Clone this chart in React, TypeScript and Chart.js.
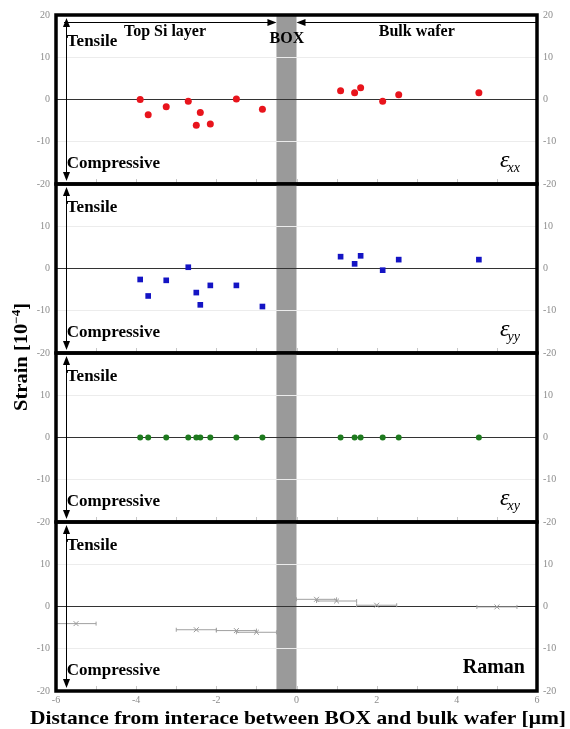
import React, { useEffect, useRef } from "react";
import { Chart, registerables } from "chart.js";
Chart.register(...registerables);

const W = 570;
const H = 729;
const PANEL_TOPS = [15, 184, 353, 522];
const PANEL_H = 169;
const SERIF = '"Liberation Serif", "Times New Roman", serif';

// ---- data ----
const xTop = [-3.9, -3.7, -3.25, -2.7, -2.5, -2.4, -2.15, -1.5, -0.85];
const xBulk = [1.1, 1.45, 1.6, 2.15, 2.55, 4.55];
const exxTop = [0, -3.6, -1.7, -0.4, -6.1, -3.1, -5.8, 0.1, -2.3];
const exxBulk = [2.1, 1.6, 2.8, -0.4, 1.1, 1.6];
const eyyTop = [-2.6, -6.5, -2.8, 0.3, -5.7, -8.6, -4.0, -4.0, -9.0];
const eyyBulk = [2.8, 1.1, 3.0, -0.4, 2.1, 2.1];
const exyTop = [0, 0, 0, 0, 0, 0, 0, 0, 0];
const exyBulk = [0, 0, 0, 0, 0, 0];
const ramanX = [-5.5, -2.5, -1.5, -1.0, 0.5, 1.0, 2.0, 5.0];
const ramanY = [-4.05, -5.5, -5.7, -6.1, 1.7, 1.3, 0.3, -0.1];
const ramanXErr = [0.5, 0.5, 0.5, 0.5, 0.5, 0.5, 0.5, 0.5];
const yTickValues = [-20, -10, 0, 10, 20];
const xTickValues = [-6, -4, -2, 0, 2, 4, 6];
const BOX_RANGE = [-0.5, 0];
const panelSymbols = ["xx", "yy", "xy", ""];

const pts = (xs: number[], ys: number[]) => xs.map((x, i) => ({ x, y: ys[i] }));

function drawArrowHead(ctx: CanvasRenderingContext2D, x: number, y: number, dx: number, dy: number) {
  const len = 9, hw = 3.5;
  const px = -dy, py = dx;
  ctx.beginPath();
  ctx.moveTo(x, y);
  ctx.lineTo(x - dx * len + px * hw, y - dy * len + py * hw);
  ctx.lineTo(x - dx * len - px * hw, y - dy * len - py * hw);
  ctx.closePath();
  ctx.fill();
}

function decor(idx: number) {
  return {
    id: "decor" + idx,
    beforeDraw(chart: any) {
      const { ctx, chartArea: a, scales } = chart;
      const x = scales.x;
      ctx.save();
      ctx.fillStyle = "#9a9a9a";
      const x0 = x.getPixelForValue(BOX_RANGE[0]);
      const x1 = x.getPixelForValue(BOX_RANGE[1]);
      ctx.fillRect(x0, a.top, x1 - x0, a.bottom - a.top);
      ctx.restore();
    },
    beforeDatasetsDraw(chart: any) {
      const { ctx, chartArea: a, scales } = chart;
      const x = scales.x, y = scales.y;
      ctx.save();
      // minor ticks
      ctx.strokeStyle = "#c8c8c8";
      ctx.lineWidth = 1;
      for (let v = -5; v <= 5; v++) {
        const px = Math.round(x.getPixelForValue(v)) + 0.5;
        ctx.beginPath();
        ctx.moveTo(px, a.bottom);
        ctx.lineTo(px, a.bottom - 5);
        ctx.stroke();
      }
      if (idx === 3) {
        ctx.strokeStyle = "#a0a0a0";
        ramanX.forEach((xv, i) => {
          const yp = y.getPixelForValue(ramanY[i]);
          const l = x.getPixelForValue(xv - ramanXErr[i]);
          const r = x.getPixelForValue(xv + ramanXErr[i]);
          ctx.beginPath();
          ctx.moveTo(l, yp);
          ctx.lineTo(r, yp);
          ctx.moveTo(l, yp - 2);
          ctx.lineTo(l, yp + 2);
          ctx.moveTo(r, yp - 2);
          ctx.lineTo(r, yp + 2);
          ctx.stroke();
        });
      }
      ctx.restore();
    },
    afterDraw(chart: any) {
      const { ctx, chartArea: a, scales } = chart;
      const x = scales.x, y = scales.y;
      ctx.save();
      // border
      ctx.strokeStyle = "#000";
      ctx.lineWidth = 3.5;
      ctx.strokeRect(a.left, a.top, a.right - a.left, a.bottom - a.top);
      // vertical double arrow
      ctx.lineWidth = 1;
      ctx.fillStyle = "#000";
      const ax = Math.round(x.getPixelForValue(-5.75)) + 0.5;
      ctx.beginPath();
      ctx.moveTo(ax, a.top + 5);
      ctx.lineTo(ax, a.bottom - 5);
      ctx.stroke();
      drawArrowHead(ctx, ax, a.top + 3, 0, -1);
      drawArrowHead(ctx, ax, a.bottom - 3, 0, 1);
      // Tensile / Compressive
      ctx.font = `bold 17px ${SERIF}`;
      ctx.textAlign = "left";
      ctx.textBaseline = "middle";
      const tx = x.getPixelForValue(-5.73);
      ctx.fillText("Tensile", tx, y.getPixelForValue(idx === 0 ? 13.6 : 14.5));
      ctx.fillText("Compressive", tx, y.getPixelForValue(-15.2));
      if (idx === 0) {
        const hy = Math.round(y.getPixelForValue(18.3)) + 0.5;
        const lx0 = x.getPixelForValue(-5.8), lx1 = x.getPixelForValue(-0.5);
        const rx0 = x.getPixelForValue(0), rx1 = a.right;
        ctx.beginPath();
        ctx.moveTo(lx0, hy);
        ctx.lineTo(lx1 - 4, hy);
        ctx.moveTo(rx0 + 4, hy);
        ctx.lineTo(rx1, hy);
        ctx.stroke();
        drawArrowHead(ctx, lx1, hy, 1, 0);
        drawArrowHead(ctx, rx0, hy, -1, 0);
        ctx.font = `bold 16px ${SERIF}`;
        ctx.textAlign = "center";
        ctx.fillText("Top Si layer", x.getPixelForValue(-3.28), y.getPixelForValue(15.9));
        ctx.fillText("BOX", x.getPixelForValue(-0.24), y.getPixelForValue(14.3));
        ctx.fillText("Bulk wafer", x.getPixelForValue(3.0), y.getPixelForValue(15.9));
      }
      // symbol
      if (panelSymbols[idx]) {
        ctx.textAlign = "left";
        ctx.textBaseline = "alphabetic";
        ctx.font = `italic 24px ${SERIF}`;
        const ex = x.getPixelForValue(5.08);
        const ey = y.getPixelForValue(-15.9);
        ctx.fillText("\u03b5", ex, ey);
        const w = ctx.measureText("\u03b5").width;
        ctx.font = `italic 14px ${SERIF}`;
        ctx.fillText(panelSymbols[idx], ex + w - 2, ey + 5);
      } else {
        ctx.textAlign = "right";
        ctx.textBaseline = "middle";
        ctx.font = `bold 20px ${SERIF}`;
        ctx.fillText("Raman", x.getPixelForValue(5.7), y.getPixelForValue(-14.5));
      }
      if (idx === 3) {
        // x title, stretched to the reference width
        ctx.save();
        ctx.textAlign = "center";
        ctx.textBaseline = "middle";
        ctx.font = `bold 19px ${SERIF}`;
        const xt = "Distance from interace between BOX and bulk wafer [\u03bcm]";
        const xw = ctx.measureText(xt).width;
        ctx.translate(298, 719);
        ctx.scale(536 / xw, 1);
        ctx.fillText(xt, 0, 0);
        ctx.restore();
        // y title (rotated)
        ctx.save();
        ctx.translate(21, 357);
        ctx.rotate(-Math.PI / 2);
        ctx.font = `bold 19px ${SERIF}`;
        const p1 = "Strain [10";
        const sup = "\u22124";
        const p3 = "]";
        const w1 = ctx.measureText(p1).width;
        ctx.font = `bold 12px ${SERIF}`;
        const w2 = ctx.measureText(sup).width;
        ctx.font = `bold 19px ${SERIF}`;
        const w3 = ctx.measureText(p3).width;
        const total = w1 + w2 + w3;
        ctx.scale(108 / total, 1);
        let cx = -total / 2;
        ctx.textAlign = "left";
        ctx.textBaseline = "alphabetic";
        ctx.fillText(p1, cx, 6);
        cx += w1;
        ctx.font = `bold 12px ${SERIF}`;
        ctx.fillText(sup, cx, -1);
        cx += w2;
        ctx.font = `bold 19px ${SERIF}`;
        ctx.fillText(p3, cx, 6);
        ctx.restore();
      }
      ctx.restore();
    },
  };
}

function buildConfig(idx: number): any {
  let datasets: any[] = [];
  if (idx === 0) {
    datasets = [
      { data: pts(xTop, exxTop), pointStyle: "circle", pointRadius: 3.5, backgroundColor: "#e8141c", borderColor: "#e8141c", borderWidth: 0 },
      { data: pts(xBulk, exxBulk), pointStyle: "circle", pointRadius: 3.5, backgroundColor: "#e8141c", borderColor: "#e8141c", borderWidth: 0 },
    ];
  } else if (idx === 1) {
    datasets = [
      { data: pts(xTop, eyyTop), pointStyle: "rect", pointRadius: 4, backgroundColor: "#1414c4", borderColor: "#1414c4", borderWidth: 0 },
      { data: pts(xBulk, eyyBulk), pointStyle: "rect", pointRadius: 4, backgroundColor: "#1414c4", borderColor: "#1414c4", borderWidth: 0 },
    ];
  } else if (idx === 2) {
    datasets = [
      { data: pts(xTop, exyTop), pointStyle: "circle", pointRadius: 3, backgroundColor: "#1e7a1e", borderColor: "#1e7a1e", borderWidth: 0 },
      { data: pts(xBulk, exyBulk), pointStyle: "circle", pointRadius: 3, backgroundColor: "#1e7a1e", borderColor: "#1e7a1e", borderWidth: 0 },
    ];
  } else {
    datasets = [
      { data: pts(ramanX, ramanY), pointStyle: "crossRot", pointRadius: 3.5, backgroundColor: "#999", borderColor: "#999", borderWidth: 1 },
    ];
  }
  const top = PANEL_TOPS[idx];
  const bottomPad = idx === 3 ? 0 : H - (top + PANEL_H);
  const tickFont = { family: SERIF, size: 10 };
  const yTickCb = (v: any) => (idx > 0 && v === 20 ? "" : String(v));
  return {
    type: "scatter",
    data: { datasets },
    options: {
      animation: false,
      responsive: false,
      events: [],
      layout: { padding: { top, bottom: bottomPad, left: 0, right: 0 } },
      plugins: { legend: { display: false }, tooltip: { enabled: false } },
      scales: {
        x: {
          type: "linear",
          min: -6,
          max: 6,
          display: idx === 3,
          afterBuildTicks: (s: any) => { s.ticks = xTickValues.map((v) => ({ value: v })); },
          afterFit: (s: any) => { s.height = idx === 3 ? H - (PANEL_TOPS[3] + PANEL_H) : 0; },
          grid: { display: false, drawTicks: false },
          border: { display: false },
          ticks: { font: tickFont, color: "#8c8c8c", padding: 3, maxRotation: 0 },
        },
        y: {
          type: "linear",
          position: "left",
          min: -20,
          max: 20,
          afterBuildTicks: (s: any) => { s.ticks = yTickValues.map((v) => ({ value: v })); },
          afterFit: (s: any) => { s.width = 56; },
          grid: {
            drawTicks: false,
            color: (c: any) => (c.tick && c.tick.value === 0 ? "#333" : c.tick && Math.abs(c.tick.value) === 10 ? "#ececec" : "rgba(0,0,0,0)"),
            lineWidth: 1,
          },
          border: { display: false },
          ticks: { font: tickFont, color: "#8c8c8c", padding: 6, callback: yTickCb },
        },
        yR: {
          type: "linear",
          position: "right",
          min: -20,
          max: 20,
          afterBuildTicks: (s: any) => { s.ticks = yTickValues.map((v) => ({ value: v })); },
          afterFit: (s: any) => { s.width = W - 537; },
          grid: { display: false, drawTicks: false },
          border: { display: false },
          ticks: { font: tickFont, color: "#8c8c8c", padding: 6, callback: yTickCb },
        },
      },
    },
    plugins: [decor(idx)],
  };
}

function Panel({ idx }: { idx: number }) {
  const ref = useRef<HTMLCanvasElement | null>(null);
  useEffect(() => {
    if (!ref.current) return;
    const chart = new Chart(ref.current, buildConfig(idx));
    return () => chart.destroy();
  }, [idx]);
  return (
    <canvas
      ref={ref}
      width={W}
      height={H}
      style={{ position: "absolute", left: 0, top: 0, width: W, height: H }}
    />
  );
}

export default function App() {
  return (
    <div style={{ position: "absolute", left: 0, top: 0, width: W, height: H, background: "#fff", overflow: "hidden" }}>
      {[0, 1, 2, 3].map((i) => (
        <Panel key={i} idx={i} />
      ))}
    </div>
  );
}
